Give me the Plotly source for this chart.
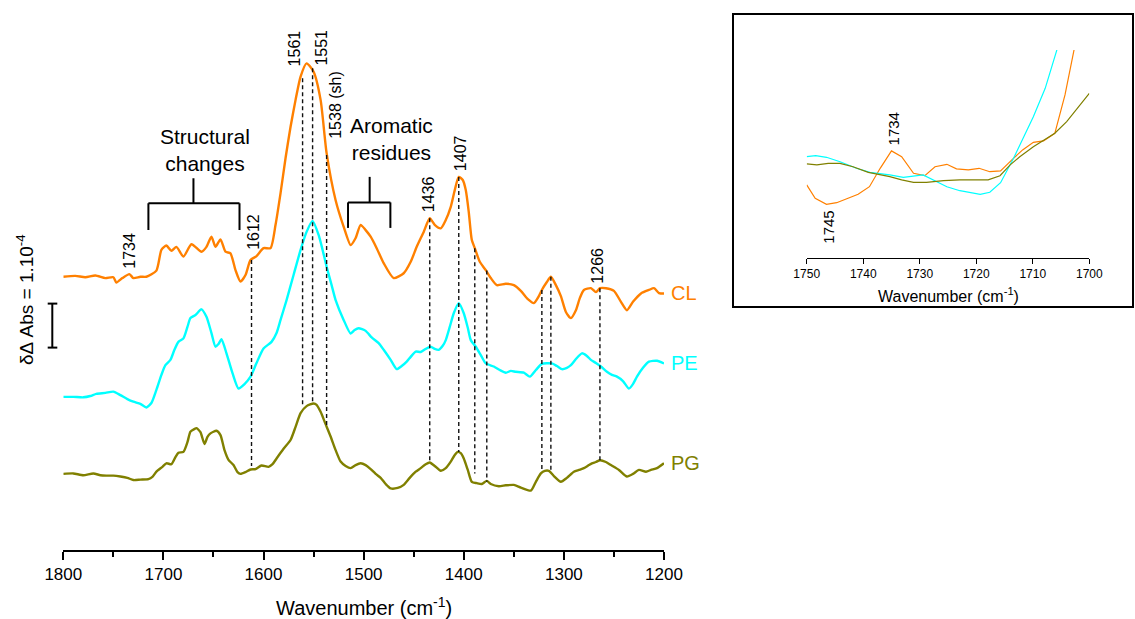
import plotly.graph_objects as go

# ---------------- data (main panel, y in units of 1e-4 Abs, stacked) -------------
wn_cl = [1800,1788,1778,1768,1758,1750,1747,1741,1734,1730,1723,1717,1707,1702,1697,1692,1687,1680,1672,1662,
         1657,1652,1648,1643,1638,1633,1628,1623,1618,1613,1607,1600,1593,1588,1583,1578,1573,1568,1563,1557,
         1550,1543,1537,1528,1520,1513,1508,1503,1498,1493,1487,1480,1470,1460,1453,1447,1440,1434,1429,1423,
         1418,1413,1409,1405,1401,1398,1395,1392,1389,1384,1378,1373,1367,1358,1350,1343,1336,1330,1325,1322,
         1317,1313,1308,1303,1298,1293,1288,1284,1280,1273,1268,1264,1258,1250,1243,1237,1231,1223,1215,1210,
         1205,1200]
cl = [6.21,6.23,6.20,6.24,6.18,6.20,6.08,6.18,6.27,6.18,6.21,6.21,6.35,6.82,6.92,6.80,6.89,6.67,6.95,6.78,
      6.89,7.12,6.89,7.06,6.78,6.74,6.36,6.10,6.25,6.59,6.68,6.86,6.86,7.39,8.11,8.91,9.62,10.23,10.76,11.06,
      10.87,10.23,9.02,7.95,7.35,6.93,7.09,7.39,7.27,7.12,6.86,6.52,6.18,6.29,6.55,6.89,7.23,7.54,7.39,7.31,
      7.50,7.80,8.18,8.48,8.41,8.18,7.68,7.05,6.86,6.55,6.36,6.18,6.02,6.05,6.02,5.89,5.70,5.61,5.77,5.91,
      6.09,6.21,6.02,5.77,5.41,5.27,5.45,5.73,5.91,5.95,5.86,5.95,5.95,5.89,5.64,5.45,5.64,5.83,5.91,5.95,
      5.84,5.83]

wn_pe = [1800,1790,1780,1773,1767,1758,1750,1743,1736,1730,1723,1717,1712,1707,1702,1698,1693,1689,1685,1680,
         1676,1673,1668,1662,1657,1652,1648,1645,1642,1637,1631,1625,1619,1613,1607,1600,1592,1587,1583,1577,
         1570,1563,1557,1551,1545,1541,1537,1532,1528,1520,1513,1509,1505,1498,1492,1485,1480,1473,1467,1462,
         1457,1453,1448,1443,1438,1433,1429,1425,1421,1418,1414,1410,1405,1400,1396,1393,1388,1383,1378,1370,
         1364,1358,1353,1348,1340,1334,1328,1322,1312,1307,1302,1297,1293,1288,1282,1277,1273,1268,1263,1257,
         1252,1247,1241,1235,1231,1227,1221,1215,1207,1200]
pe = [3.48,3.48,3.47,3.50,3.55,3.57,3.60,3.52,3.43,3.37,3.32,3.24,3.34,3.64,3.98,4.20,4.32,4.55,4.73,4.81,
      5.07,5.27,5.34,5.47,5.30,4.93,4.62,4.68,4.79,4.47,4.02,3.67,3.77,3.94,4.25,4.58,4.73,4.93,5.23,5.68,
      6.25,6.82,7.23,7.48,7.16,6.82,6.44,6.02,5.68,5.23,4.92,5.00,5.04,4.98,4.83,4.70,4.55,4.32,4.11,4.18,
      4.28,4.39,4.51,4.50,4.57,4.62,4.57,4.55,4.64,4.77,5.07,5.38,5.61,5.38,5.05,4.77,4.62,4.43,4.24,4.17,
      4.09,4.03,4.07,4.05,4.03,3.94,4.09,4.23,4.24,4.18,4.11,4.14,4.20,4.34,4.47,4.41,4.32,4.25,4.17,4.05,
      3.98,3.94,3.84,3.67,3.77,3.94,4.14,4.28,4.30,4.24]

wn_pg = [1800,1790,1780,1770,1763,1757,1750,1743,1736,1730,1723,1715,1711,1707,1701,1697,1692,1688,1685,1680,
         1676,1673,1669,1667,1663,1659,1656,1653,1647,1643,1639,1635,1630,1626,1623,1618,1613,1608,1602,1595,
         1591,1587,1580,1573,1568,1563,1557,1550,1547,1543,1538,1533,1528,1523,1518,1513,1508,1503,1498,1493,
         1488,1483,1478,1473,1466,1460,1454,1448,1443,1438,1434,1429,1423,1418,1413,1409,1406,1403,1400,1396,
         1392,1387,1382,1377,1373,1365,1358,1350,1343,1333,1328,1323,1319,1315,1310,1303,1297,1290,1285,1280,
         1275,1272,1268,1264,1258,1253,1245,1237,1231,1225,1218,1213,1207,1200]
pg = [1.73,1.74,1.70,1.74,1.70,1.69,1.69,1.67,1.64,1.59,1.60,1.61,1.66,1.78,1.89,1.97,1.95,2.11,2.21,2.23,
      2.45,2.69,2.75,2.77,2.68,2.41,2.57,2.65,2.71,2.61,2.27,2.05,1.93,1.77,1.73,1.77,1.83,1.84,1.92,1.89,
      1.95,2.08,2.30,2.50,2.80,3.11,3.27,3.33,3.30,3.14,2.86,2.58,2.27,2.01,1.91,1.86,1.93,1.97,1.93,1.84,
      1.73,1.64,1.50,1.40,1.41,1.48,1.64,1.78,1.86,1.95,1.99,1.91,1.80,1.86,2.01,2.16,2.23,2.20,2.08,1.82,
      1.55,1.52,1.50,1.57,1.50,1.45,1.47,1.48,1.42,1.35,1.55,1.74,1.80,1.80,1.68,1.55,1.64,1.78,1.82,1.86,
      1.93,1.97,2.00,2.04,2.00,1.93,1.82,1.67,1.73,1.82,1.78,1.82,1.86,1.97]

# band marker lines (wavenumber, top value, bottom value)
band_wn = [1612, 1561, 1551, 1537, 1434, 1405, 1389, 1377, 1322, 1313, 1264]
band_top = [6.59, 10.72, 10.95, 8.98, 7.54, 8.48, 6.86, 6.35, 5.91, 6.21, 5.95]
band_bot = [1.91, 3.26, 3.35, 2.84, 1.99, 2.23, 1.74, 1.55, 1.78, 1.80, 2.04]

# rotated band labels
band_labels = ["1734", "1612", "1561", "1551", "1538 (sh)", "1436", "1407", "1266"]
band_label_x = [1734, 1610, 1569, 1542.5, 1528, 1435, 1403.3, 1266.6]
band_label_y = [6.81, 7.22, 11.39, 11.42, 10.11, 8.08, 9.03, 6.47]

series_names = ["CL", "PE", "PG"]
series_colors = ["#FF8000", "#00FFFF", "#808000"]

# ---------------- inset data (1750-1700 cm-1, arbitrary units) -------------
wn_in_cl = [1750,1748.5,1746.5,1744.7,1740.9,1738.9,1737.0,1735.0,1733.2,1731.1,1729.1,1727.3,1725.2,
            1723.5,1721.4,1719.5,1717.6,1715.7,1713.7,1711.8,1709.9,1708.1,1706.1,1704.3,1702.7,1702.2]
in_cl = [3.64,2.97,2.67,2.75,3.17,3.55,4.47,5.34,5.05,4.22,4.10,4.55,4.67,
         4.44,4.39,4.47,4.30,4.34,4.89,5.39,5.77,5.84,6.22,8.14,10.39,11.4]
wn_in_pe = [1750,1748.4,1746.5,1744.1,1741.2,1738.8,1735.3,1732.9,1729.4,1727.0,1725.2,1722.9,1719.3,
            1717.6,1715.7,1713.4,1711.7,1709.9,1707.8,1705.8,1705.2]
in_pe = [5.05,5.10,5.02,4.80,4.47,4.27,4.14,4.02,4.14,3.80,3.55,3.35,3.17,
         3.27,3.75,4.97,5.97,7.05,8.47,10.30,10.89]
wn_in_pg = [1750,1748.2,1746.2,1744.1,1741.8,1739.1,1735.3,1733.2,1731.1,1728.8,1725.8,1722.9,1717.9,
            1715.8,1714.0,1712.3,1709.9,1706.1,1704.0,1700]
in_pg = [4.69,4.64,4.72,4.72,4.55,4.27,4.05,3.89,3.77,3.77,3.85,3.89,3.89,
         4.10,4.64,5.05,5.55,6.22,6.80,8.22]
inset_labels = ["1734", "1745"]
inset_label_x = [1734.6, 1746.2]
inset_label_y = [6.45, 1.51]

FONT = "Liberation Sans, Arial, sans-serif"
W, H = 1135, 619

fig = go.Figure()

main_series = [(wn_cl, cl), (wn_pe, pe), (wn_pg, pg)]
for (xs, ys), name, col in zip(main_series, series_names, series_colors):
    fig.add_trace(go.Scatter(x=xs, y=ys, mode="lines", name=name,
                             line=dict(color=col, width=2.4, shape="spline", smoothing=0.6),
                             xaxis="x", yaxis="y", hoverinfo="skip"))

# dashed band lines
dx, dy = [], []
for w, t, b in zip(band_wn, band_top, band_bot):
    dx += [w, w, None]
    dy += [t, b, None]
fig.add_trace(go.Scatter(x=dx, y=dy, mode="lines",
                         line=dict(color="#111111", width=1.4, dash="4px,3px"),
                         xaxis="x", yaxis="y", hoverinfo="skip"))

inset_series = [(wn_in_cl, in_cl), (wn_in_pe, in_pe), (wn_in_pg, in_pg)]
for (xs, ys), col in zip(inset_series, series_colors):
    fig.add_trace(go.Scatter(x=xs, y=ys, mode="lines",
                             line=dict(color=col, width=1.2),
                             xaxis="x2", yaxis="y2", hoverinfo="skip"))

ann = []
for txt, x, y in zip(band_labels, band_label_x, band_label_y):
    ann.append(dict(text=txt, x=x, y=y, xref="x", yref="y", textangle=-90,
                    showarrow=False, xanchor="center", yanchor="middle",
                    font=dict(size=16, color="black", family=FONT)))
ann.append(dict(text="Structural<br>changes", x=1658, y=9.09, xref="x", yref="y",
                showarrow=False, font=dict(size=21, color="black", family=FONT)))
ann.append(dict(text="Aromatic<br>residues", x=1472, y=9.34, xref="x", yref="y",
                showarrow=False, font=dict(size=21, color="black", family=FONT)))
label_y = [cl[-1], pe[-1], pg[-1]]
for name, col, y in zip(series_names, series_colors, label_y):
    ann.append(dict(text=name, x=669 / W, y=y, xref="paper", yref="y", xanchor="left",
                    yanchor="middle", showarrow=False,
                    font=dict(size=20, color=col, family=FONT)))
ann.append(dict(text="δΔ Abs = 1.10<sup>-4</sup>", x=25 / W, y=(H - 300) / H,
                xref="paper", yref="paper", textangle=-90, showarrow=False,
                xanchor="center", yanchor="middle",
                font=dict(size=19, color="black", family=FONT)))
ann.append(dict(text="Wavenumber (cm<sup>-1</sup>)", x=364 / W, y=(H - 606) / H,
                xref="paper", yref="paper", showarrow=False, xanchor="center", yanchor="middle",
                font=dict(size=20, color="black", family=FONT)))
for txt, x, y in zip(inset_labels, inset_label_x, inset_label_y):
    ann.append(dict(text=txt, x=x, y=y, xref="x2", yref="y2", textangle=-90,
                    showarrow=False, xanchor="center", yanchor="middle",
                    font=dict(size=15, color="black", family=FONT)))
ann.append(dict(text="Wavenumber (cm<sup>-1</sup>)", x=948 / W, y=(H - 295) / H,
                xref="paper", yref="paper", showarrow=False, xanchor="center", yanchor="middle",
                font=dict(size=16, color="black", family=FONT)))

blk = dict(color="black", width=2)
shapes = [
    # Structural changes bracket
    dict(type="line", xref="x", yref="y", x0=1715, x1=1624, y0=7.88, y1=7.88, line=blk),
    dict(type="line", xref="x", yref="y", x0=1715, x1=1715, y0=7.88, y1=7.27, line=blk),
    dict(type="line", xref="x", yref="y", x0=1624, x1=1624, y0=7.88, y1=7.27, line=blk),
    dict(type="line", xref="x", yref="y", x0=1670, x1=1670, y0=7.88, y1=8.45, line=blk),
    # Aromatic residues bracket
    dict(type="line", xref="x", yref="y", x0=1515.6, x1=1473.3, y0=7.90, y1=7.90, line=blk),
    dict(type="line", xref="x", yref="y", x0=1515.6, x1=1515.6, y0=7.90, y1=7.32, line=blk),
    dict(type="line", xref="x", yref="y", x0=1473.3, x1=1473.3, y0=7.90, y1=7.32, line=blk),
    dict(type="line", xref="x", yref="y", x0=1494, x1=1494, y0=7.90, y1=8.48, line=blk),
    # scale bar (1e-4)
    dict(type="line", xref="paper", yref="y", x0=52.3 / W, x1=52.3 / W, y0=4.60, y1=5.60, line=blk),
    dict(type="line", xref="paper", yref="y", x0=47.7 / W, x1=57.3 / W, y0=4.60, y1=4.60, line=blk),
    dict(type="line", xref="paper", yref="y", x0=47.7 / W, x1=57.3 / W, y0=5.60, y1=5.60, line=blk),
    # inset frame
    dict(type="rect", xref="paper", yref="paper", x0=733 / W, x1=1133 / W,
         y0=(H - 307) / H, y1=(H - 14) / H, line=dict(color="black", width=2)),
]

fig.update_layout(
    width=W, height=H, margin=dict(l=0, r=0, t=0, b=0),
    paper_bgcolor="white", plot_bgcolor="white", showlegend=False,
    font=dict(family=FONT, color="black"),
    xaxis=dict(domain=[63.3 / W, 664 / W], range=[1800, 1200], anchor="y",
               showgrid=False, zeroline=False, showline=True, linecolor="black", linewidth=1.5,
               ticks="outside", ticklen=8, tickwidth=1.5, tickcolor="black", dtick=100, tick0=1200,
               tickfont=dict(size=17, color="black", family=FONT),
               minor=dict(ticks="outside", dtick=50, ticklen=5, tickwidth=1.5, tickcolor="black"),
               automargin=False),
    yaxis=dict(domain=[(H - 550) / H, 1], range=[0, 12.5], anchor="x", visible=False,
               showgrid=False, zeroline=False),
    xaxis2=dict(domain=[806.7 / W, 1089.3 / W], range=[1750, 1700], anchor="y2",
                showgrid=False, zeroline=False, showline=True, linecolor="black", linewidth=1,
                ticks="outside", ticklen=5, tickwidth=1, tickcolor="black", dtick=10, tick0=1700,
                tickfont=dict(size=12, color="black", family=FONT), automargin=False),
    yaxis2=dict(domain=[(H - 257.7) / H, (H - 50) / H], range=[0, 10.385], anchor="x2",
                visible=False, showgrid=False, zeroline=False),
    annotations=ann, shapes=shapes,
)

fig.write_html("out.html", config={"displayModeBar": False},
               post_script="document.body.style.margin='0px';document.body.style.padding='0px';")
